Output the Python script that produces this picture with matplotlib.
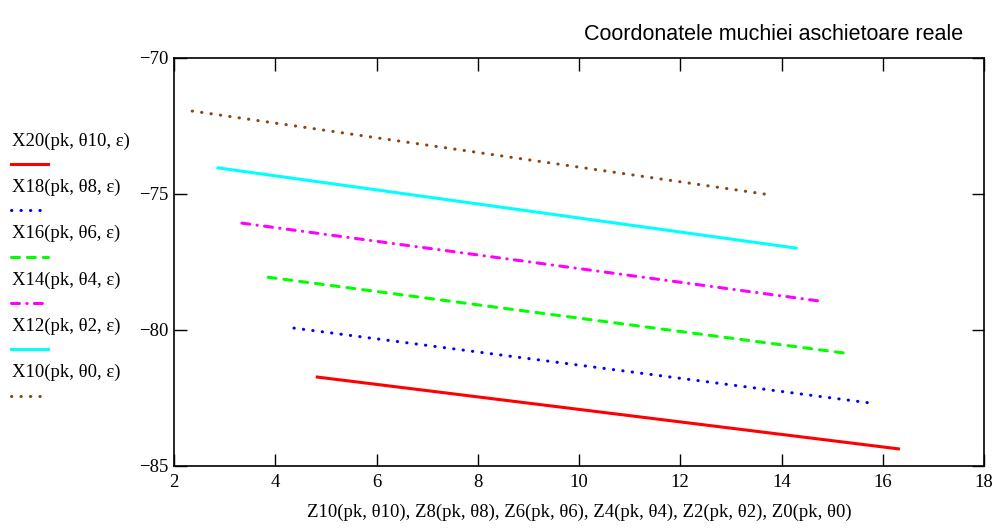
import matplotlib.pyplot as plt
from matplotlib.lines import Line2D

# -----------------------------
# Data
# -----------------------------
labels = ["X20(pk, θ10, ε)", "X18(pk, θ8, ε)", "X16(pk, θ6, ε)",
          "X14(pk, θ4, ε)", "X12(pk, θ2, ε)", "X10(pk, θ0, ε)"]
z_start = [4.83, 4.37, 3.86, 3.34, 2.87, 2.36]
z_end = [16.31, 15.74, 15.25, 14.73, 14.29, 13.66]
x_start = [-81.73, -79.93, -78.06, -76.07, -74.04, -71.95]
x_end = [-84.37, -82.68, -80.85, -78.93, -76.99, -75.0]

colors = ["#ff0000", "#0000ff", "#00ff00", "#ff00ff", "#00ffff", "#8b4513"]
styles = ["-", (0, (0.1, 3.0)), (0, (2.6, 2.6)), (0, (2.6, 2.4, 0.1, 2.4)), "-", (0, (0.1, 3.0))]

plt.rcParams['font.family'] = ['Liberation Serif', 'DejaVu Serif']

fig = plt.figure(figsize=(10.02, 5.31), dpi=100)
ax = fig.add_axes([174/1002, 1 - 466/531, 810/1002, 408/531])

for i in range(len(labels)):
    ax.plot([z_start[i], z_end[i]], [x_start[i], x_end[i]], color=colors[i],
            linestyle=styles[i], linewidth=2.2, dash_capstyle='round')

ax.set_xlim(2, 18)
ax.set_ylim(-85, -70)
ax.set_xticks(range(2, 19, 2))
ax.set_yticks([-85, -80, -75, -70])
ax.tick_params(direction='in', top=True, right=True, labelsize=13.5, length=9,
               width=1.0, pad=4)
ax.tick_params(axis='x', pad=6)
for s in ax.spines.values():
    s.set_linewidth(1.2)

ax.set_xlabel("Z10(pk, θ10), Z8(pk, θ8), Z6(pk, θ6), Z4(pk, θ4), Z2(pk, θ2), Z0(pk, θ0)",
              fontsize=13.5, labelpad=9)

fig.text(963/1002, 1 - 35/531, "Coordonatele muchiei aschietoare reale",
         ha='right', va='center', fontsize=15.5, family='Liberation Sans')

# legend on the left, outside the axes
for i in range(len(labels)):
    ty = 141 + i * 46.3
    ly = ty + 23
    fig.text(12/1002, 1 - ty/531, labels[i], ha='left', va='center', fontsize=13.5)
    fig.add_artist(Line2D([11/1002, 48/1002], [1 - ly/531, 1 - ly/531],
                          color=colors[i], linestyle=styles[i], linewidth=2.2,
                          dash_capstyle='round', transform=fig.transFigure))

plt.savefig("out.png", dpi=100)
